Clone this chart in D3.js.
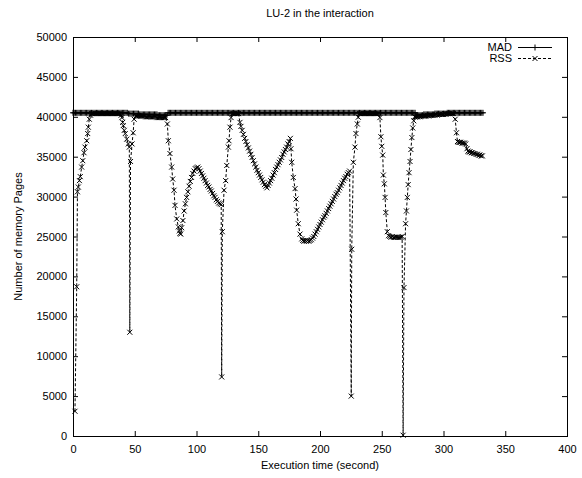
<!DOCTYPE html>
<html><head><meta charset="utf-8">
<script src="https://cdn.jsdelivr.net/npm/d3@7"></script>
<style>
html,body{margin:0;padding:0;background:#fff;}
svg{display:block;font-family:"Liberation Sans",Arial,Helvetica,sans-serif;}
</style></head><body>
<svg id="chart" width="582" height="478"></svg>
<script>
const chartTitle = "LU-2 in the interaction";
const xAxisLabel = "Execution time (second)";
const yAxisLabel = "Number of memory Pages";
const xTicks = [0, 50, 100, 150, 200, 250, 300, 350, 400];
const yTicks = [0, 5000, 10000, 15000, 20000, 25000, 30000, 35000, 40000, 45000, 50000];
const seriesNames = ["MAD", "RSS"];

const madTime = [
  0,1,2,3,4,5,6,7,8,9,10,11,12,13,14,15,16,17,18,19,
  20,21,22,23,24,25,26,27,28,29,30,31,32,33,34,35,36,37,38,39,
  40,41,42,43,44,45,46,47,48,49,50,51,52,53,54,55,56,57,58,59,
  60,61,62,63,64,65,66,67,68,69,70,71,72,73,74,75,76,77,78,79,
  80,81,82,83,84,85,86,87,88,89,90,91,92,93,94,95,96,97,98,99,
  100,101,102,103,104,105,106,107,108,109,110,111,112,113,114,115,116,117,118,119,
  120,121,122,123,124,125,126,127,128,129,130,131,132,133,134,135,136,137,138,139,
  140,141,142,143,144,145,146,147,148,149,150,151,152,153,154,155,156,157,158,159,
  160,161,162,163,164,165,166,167,168,169,170,171,172,173,174,175,176,177,178,179,
  180,181,182,183,184,185,186,187,188,189,190,191,192,193,194,195,196,197,198,199,
  200,201,202,203,204,205,206,207,208,209,210,211,212,213,214,215,216,217,218,219,
  220,221,222,223,224,225,226,227,228,229,230,231,232,233,234,235,236,237,238,239,
  240,241,242,243,244,245,246,247,248,249,250,251,252,253,254,255,256,257,258,259,
  260,261,262,263,264,265,266,267,268,269,270,271,272,273,274,275,276,277,278,279,
  280,281,282,283,284,285,286,287,288,289,290,291,292,293,294,295,296,297,298,299,
  300,301,302,303,304,305,306,307,308,309,310,311,312,313,314,315,316,317,318,319,
  320,321,322,323,324,325,326,327,328,329,330,331,332
];
const madPages = [
  40500,40500,40500,40500,40500,40500,40500,40500,40500,40500,40500,40500,40500,40500,40500,40500,40500,40500,40500,40500,
  40500,40500,40500,40500,40500,40500,40500,40500,40500,40500,40500,40500,40500,40500,40500,40500,40500,40500,40500,40500,
  40500,40500,40500,40500,40500,40400,40400,40400,40400,40400,40400,40400,40400,40400,40300,40300,40300,40300,40300,40300,
  40300,40300,40300,40300,40300,40300,40300,40300,40300,40200,40200,40200,40200,40200,40200,40200,40200,40500,40500,40500,
  40500,40500,40500,40500,40500,40500,40500,40500,40500,40500,40500,40500,40500,40500,40500,40500,40500,40500,40500,40500,
  40500,40500,40500,40500,40500,40500,40500,40500,40500,40500,40500,40500,40500,40500,40500,40500,40500,40500,40500,40500,
  40500,40500,40500,40500,40500,40500,40500,40500,40500,40500,40500,40500,40500,40500,40500,40500,40500,40500,40500,40500,
  40500,40500,40500,40500,40500,40500,40500,40500,40500,40500,40500,40500,40500,40500,40500,40500,40500,40500,40500,40500,
  40500,40500,40500,40500,40500,40500,40500,40500,40500,40500,40500,40500,40500,40500,40500,40500,40500,40500,40500,40500,
  40500,40500,40500,40500,40500,40500,40500,40500,40500,40500,40500,40500,40500,40500,40500,40500,40500,40500,40500,40500,
  40500,40500,40500,40500,40500,40500,40500,40500,40500,40500,40500,40500,40500,40500,40500,40500,40500,40500,40500,40500,
  40500,40500,40500,40500,40500,40500,40500,40500,40500,40500,40500,40500,40500,40500,40500,40500,40500,40500,40500,40500,
  40500,40500,40500,40500,40500,40500,40500,40500,40500,40500,40500,40500,40500,40500,40500,40500,40500,40500,40500,40500,
  40500,40500,40500,40500,40500,40500,40500,40500,40500,40500,40500,40500,40500,40500,40500,40500,40500,40500,40200,40200,
  40200,40200,40200,40200,40300,40300,40300,40300,40300,40300,40300,40300,40300,40400,40400,40400,40400,40400,40400,40400,
  40400,40400,40400,40500,40500,40500,40500,40500,40500,40500,40500,40500,40500,40500,40500,40500,40500,40500,40500,40500,
  40500,40500,40500,40500,40500,40500,40500,40500,40500,40500,40500,40500,40500
];

const rssTime = [
  1.6,3.0,3.6,4.3,5.2,5.9,7.0,7.9,8.9,9.7,11.1,11.9,12.4,13.2,14.2,
  15,16,17,18,19,20,21,22,23,24,25,26,27,28,29,30,31,32,33,34,35,36,37,38,39,
  39.6,40.2,40.7,41.5,42.3,43.5,44.8,45.6,46.0,46.6,47.8,48.7,49.5,
  51,52,53,54,55,56,57,58,59,60,61,62,63,64,65,66,67,68,69,70,71,72,73,74,75,
  76.4,77.2,78.5,79.9,80.7,81.8,82.6,84.0,85.3,86.1,86.6,87.2,
  88,89,90,91,92,93,94,95,96,97,98,99,100,101,102,
  103,104,105,106,107,108,109,110,111,112,113,114,115,116,117,118,119,120,
  120.4,120.9,122.3,123.6,124.5,125.8,126.3,127.1,128,
  129,130,131,132,133,134,
  135.2,136,137,138,139,140,141,142,143,144,145,146,147,148,149,150,151,152,153,154,155,156,157,
  158,159,160,161,162,163,164,165,166,167,168,169,170,171,172,173,174,175,176,
  176.5,177.1,178.4,179.8,180.6,181.1,182.4,183.8,185.2,
  186,187,188,189,190,191,192,193,194,
  195,196,197,198,199,200,201,202,203,204,205,206,207,208,209,210,211,212,213,214,
  215,216,217,218,219,220,221,222,223,224,
  225.3,225.7,227.0,228.3,229.1,230.2,231.0,
  232,233,234,235,236,237,238,239,240,241,242,243,244,245,246,247,
  248.5,249.3,250.0,250.8,251.3,252.1,252.7,253.3,254.5,255.5,
  256.5,257.5,258.5,259.5,260.5,261.5,262.5,263.5,264.5,265.5,266.5,
  267.3,268.0,269.3,270.0,270.7,271.4,272.1,272.9,273.6,274.4,275.1,275.9,276.7,
  277,278,279,280,281,282,283,284,285,286,287,288,289,290,291,292,
  293,294,295,296,297,298,299,300,301,302,303,304,305,306,307,308,
  309.5,310.5,311.3,312,313,314,315,316,317,318,319,319.8,
  320.5,321.5,322.5,323.5,324.5,325.5,326.5,327.5,328.5,329.5,330.5,331.5
];
const rssPages = [
  3100,18700,30600,31200,32000,32500,33700,34500,35500,36200,37000,37900,38700,39700,40200,
  40400,40400,40400,40400,40400,40400,40400,40400,40400,40400,40400,40400,40400,40400,40400,40400,40400,40400,40400,40400,40400,40400,40400,40400,40200,
  39900,39300,38900,38300,37900,37200,36600,36200,13000,34400,36600,38000,39700,
  40100,40100,40100,40100,40100,40100,40100,40100,40000,40000,40000,40000,40000,40000,40000,40000,40000,39900,39900,39900,39900,39900,39900,39900,39900,
  39100,37000,35400,33700,32200,30800,28900,27200,26200,25700,25400,25300,
  26100,27000,28200,29100,29900,30600,31300,31900,32400,32900,33200,33500,33600,33700,33500,
  33200,32900,32600,32300,32000,31700,31400,31200,30900,30700,30400,30100,29900,29600,29400,29200,29100,29000,
  7400,25600,30800,32000,33900,36200,37000,38700,39900,
  40400,40400,40400,40400,40400,40400,
  39300,38800,38300,37800,37300,36900,36500,36100,35700,35300,34900,34500,34100,33700,33300,33000,32700,32400,32100,31800,31500,31300,31100,
  31400,31700,32000,32300,32700,33000,33400,33700,34000,34300,34600,34900,35300,35600,35900,36200,36600,36900,37300,
  36000,34300,32400,31000,29700,28300,26600,25300,24700,
  24500,24400,24500,24400,24500,24400,24500,24600,24800,
  25000,25300,25600,25900,26200,26500,26800,27100,27400,27600,27900,28200,28500,28800,29100,29400,29700,30000,30300,30500,
  30800,31100,31400,31700,32000,32300,32500,32800,33000,33200,
  5000,23400,34300,36200,37900,39100,39950,
  40400,40400,40400,40400,40400,40400,40400,40400,40400,40400,40400,40400,40400,40400,40400,40400,
  39900,37500,36300,35200,32700,31600,29900,28000,25600,25100,
  25000,24900,25000,24900,24900,24900,24900,24900,24900,24900,25000,
  100,18600,26600,28200,29900,31500,33000,34400,35900,37400,38600,39500,40000,
  40000,40000,40000,40100,40000,40100,40100,40100,40100,40100,40200,40100,40200,40200,40200,40200,
  40200,40300,40200,40300,40300,40300,40300,40300,40400,40300,40400,40400,40400,40400,40400,40400,
  39700,38000,36900,36800,36800,36800,36700,36700,36700,36600,36000,35700,
  35600,35600,35500,35500,35400,35400,35300,35300,35200,35200,35100,35100
];

const svg = d3.select("#chart");
const plotLeft = 73, plotRight = 567, plotTop = 37, plotBottom = 436;
const x = d3.scaleLinear().domain([0, 400]).range([plotLeft, plotRight]);
const y = d3.scaleLinear().domain([0, 50000]).range([plotBottom, plotTop]);
const fontSize = "11px";

// Axes (ticks inward, mirrored on all four sides)
const gx = svg.append("g").attr("transform", `translate(0,${plotBottom})`)
  .call(d3.axisBottom(x).tickValues(xTicks).tickSizeInner(-5).tickSizeOuter(0).tickPadding(9).tickFormat(d3.format("d")));
const gy = svg.append("g").attr("transform", `translate(${plotLeft},0)`)
  .call(d3.axisLeft(y).tickValues(yTicks).tickSizeInner(-5).tickSizeOuter(0).tickPadding(6).tickFormat(d3.format("d")));
const gxt = svg.append("g").attr("transform", `translate(0,${plotTop})`)
  .call(d3.axisTop(x).tickValues(xTicks).tickSizeInner(-5).tickSizeOuter(0).tickFormat(""));
const gyr = svg.append("g").attr("transform", `translate(${plotRight},0)`)
  .call(d3.axisRight(y).tickValues(yTicks).tickSizeInner(-5).tickSizeOuter(0).tickFormat(""));
[gx, gy, gxt, gyr].forEach(g => {
  g.select(".domain").remove();
  g.selectAll("line").attr("stroke", "#000");
  g.selectAll("text").attr("fill", "#000").style("font-size", fontSize)
   .style("font-family", '"Liberation Sans", Arial, sans-serif');
});

// border
svg.append("rect")
  .attr("x", plotLeft + 0.5).attr("y", plotTop + 0.5)
  .attr("width", plotRight - plotLeft).attr("height", plotBottom - plotTop)
  .attr("fill", "none").attr("stroke", "#000").attr("stroke-width", 1)
  .attr("shape-rendering", "crispEdges");

// title and axis labels
svg.append("text").attr("x", (plotLeft + plotRight) / 2).attr("y", 17)
  .attr("text-anchor", "middle").style("font-size", fontSize).text(chartTitle);
svg.append("text").attr("x", (plotLeft + plotRight) / 2).attr("y", 469)
  .attr("text-anchor", "middle").style("font-size", fontSize).text(xAxisLabel);
svg.append("text").attr("transform", `translate(22,${(plotTop + plotBottom) / 2}) rotate(-90)`)
  .attr("text-anchor", "middle").style("font-size", fontSize).text(yAxisLabel);

const plusPath = "M-3,0H3M0,-3V3";
const crossPath = "M-2.5,-2.5L2.5,2.5M-2.5,2.5L2.5,-2.5";

const madData = madTime.map((t, i) => ({ t, v: madPages[i] }));
const rssData = rssTime.map((t, i) => ({ t, v: rssPages[i] }));
const line = d3.line().x(d => x(d.t)).y(d => y(d.v));

const plot = svg.append("g");
// MAD
plot.append("path").datum(madData).attr("d", line)
  .attr("fill", "none").attr("stroke", "#000").attr("stroke-width", 1);
plot.selectAll(".mad").data(madData).enter().append("path")
  .attr("transform", d => `translate(${x(d.t)},${y(d.v)})`)
  .attr("d", plusPath).attr("stroke", "#000").attr("stroke-width", 1).attr("fill", "none");
// RSS
plot.append("path").datum(rssData).attr("d", line)
  .attr("fill", "none").attr("stroke", "#000").attr("stroke-width", 1).attr("stroke-dasharray", "3,2");
plot.selectAll(".rss").data(rssData).enter().append("path")
  .attr("transform", d => `translate(${x(d.t)},${y(d.v)})`)
  .attr("d", crossPath).attr("stroke", "#000").attr("stroke-width", 1).attr("fill", "none");

// legend
const legend = svg.append("g");
const legendRows = [
  { name: seriesNames[0], yc: 47, dash: null, mark: plusPath },
  { name: seriesNames[1], yc: 58, dash: "3,2", mark: crossPath }
];
legendRows.forEach(r => {
  legend.append("text").attr("x", 512).attr("y", r.yc + 4).attr("text-anchor", "end")
    .style("font-size", fontSize).text(r.name);
  legend.append("line").attr("x1", 518).attr("x2", 552).attr("y1", r.yc + 0.5).attr("y2", r.yc + 0.5)
    .attr("stroke", "#000").attr("stroke-width", 1).attr("stroke-dasharray", r.dash);
  legend.append("path").attr("transform", `translate(535,${r.yc + 0.5})`).attr("d", r.mark)
    .attr("stroke", "#000").attr("stroke-width", 1).attr("fill", "none");
});
</script>
</body></html>
